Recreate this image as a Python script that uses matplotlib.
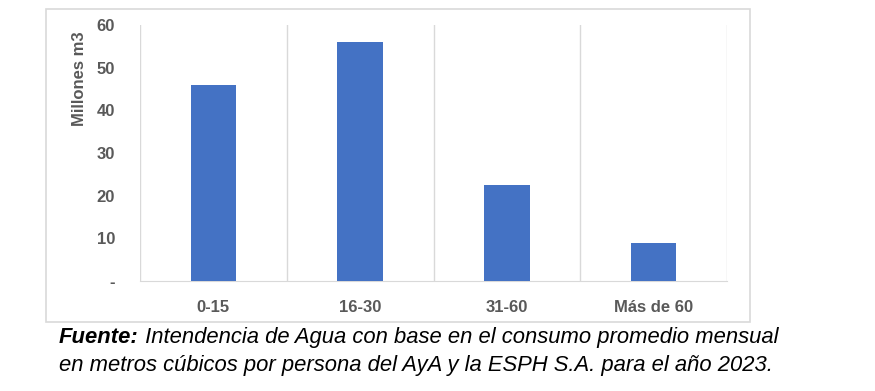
import matplotlib.pyplot as plt
from matplotlib.patches import Rectangle

categorias = ["0-15", "16-30", "31-60", "Más de 60"]
consumo = [46, 56, 22.6, 8.9]
yticks = [0, 10, 20, 30, 40, 50, 60]
ytick_labels = ["-", "10", "20", "30", "40", "50", "60"]

plt.rcParams["font.family"] = ["Liberation Sans", "DejaVu Sans"]

fig = plt.figure(figsize=(8.75, 3.91), dpi=100)

# marco del grafico
fig.patches.append(Rectangle((46 / 875, 1 - 322 / 391), (750 - 46) / 875, (322 - 9) / 391,
                             transform=fig.transFigure, fill=False,
                             edgecolor="#D9D9D9", linewidth=1.2))

ax = fig.add_axes([140 / 875, 1 - 281 / 391, 587 / 875, 256 / 391])
x = range(len(categorias))
ax.bar(x, consumo, width=0.31, color="#4472C4", zorder=3)

ax.set_xlim(-0.5, len(categorias) - 0.5)
ax.set_ylim(0, 60)

# lineas verticales entre categorias
for b in [i - 0.5 for i in range(len(categorias) + 1)]:
    ax.axvline(b, color="#D9D9D9", linewidth=1, zorder=1)

for s in ["top", "right", "left"]:
    ax.spines[s].set_visible(False)
ax.spines["bottom"].set_color("#D9D9D9")

ax.set_yticks(yticks)
ax.set_yticklabels(ytick_labels)
ax.set_xticks(list(x))
ax.set_xticklabels(categorias)
ax.tick_params(axis="both", length=0, labelsize=12, labelcolor="#595959")
ax.tick_params(axis="y", pad=18)
ax.tick_params(axis="x", pad=14)
for lab in ax.get_xticklabels() + ax.get_yticklabels():
    lab.set_fontweight("bold")

fig.text(79 / 875, 1 - 79 / 391, "Millones m3", rotation=90, ha="center", va="center",
         fontsize=12, fontweight="bold", color="#595959")

# nota de fuente
t1 = fig.text(59 / 875, 1 - 343 / 391, "Fuente:", fontsize=15.8, fontweight="bold",
              style="italic", color="black")
ax.annotate(" Intendencia de Agua con base en el consumo promedio mensual",
            xy=(1, 0), xycoords=t1, va="bottom", ha="left",
            fontsize=15.8, style="italic", color="black", annotation_clip=False)
fig.text(59 / 875, 1 - 371 / 391,
         "en metros cúbicos por persona del AyA y la ESPH S.A. para el año 2023.",
         fontsize=15.8, style="italic", color="black")

plt.savefig("out.png", dpi=100)
